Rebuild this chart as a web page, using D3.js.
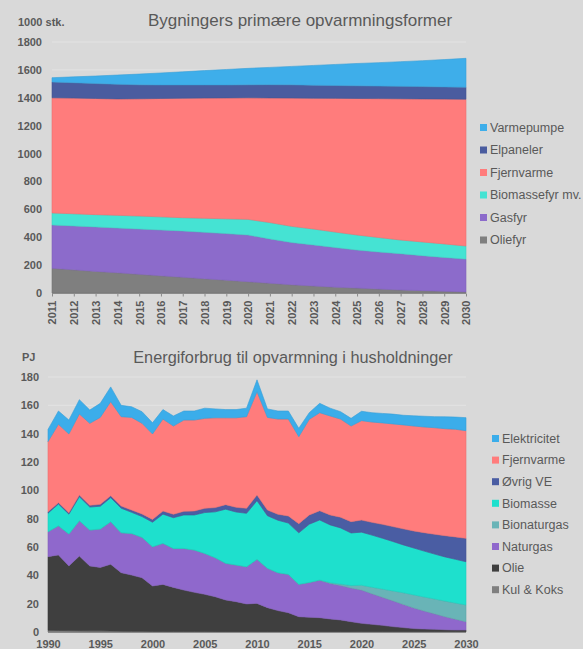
<!DOCTYPE html>
<html><head><meta charset="utf-8">
<script src="https://cdn.jsdelivr.net/npm/d3@7"></script>
<style>
body{margin:0;background:#d9d9d9}
svg text{font-family:"Liberation Sans",Arial,sans-serif}
</style>
</head><body>
<svg id="c" width="583" height="649"></svg>
<script>
// ---------- Chart 1: Bygningers primære opvarmningsformer (1000 stk.) ----------
const years1 = [2011,2012,2013,2014,2015,2016,2017,2018,2019,2020,2021,2022,2023,2024,2025,2026,2027,2028,2029,2030];
const oliefyr     = [177,166,155,145,134,123,113,102,92,81,70,59,50,42,35,28,22,17,12,8];
const gasfyr      = [311,315,319,321,325,329,332,333,334,335,318,303,295,284,273,266,260,251,243,235];
const biomassefyr = [86,87,88,91,93,94,95,101,106,112,117,116,114,111,108,104,98,98,97,94];
const fjernvarme1 = [826,830,833,835,841,849,857,862,867,872,894,920,938,959,979,996,1013,1026,1039,1053];
const elpaneler   = [113,110,107,105,100,97,95,94,93,93,95,95,93,92,91,90,89,88,87,86];
const varmepumpe  = [31,42,54,66,77,86,94,103,111,118,124,132,142,151,160,168,177,186,196,207];
const yTicks1 = [0,200,400,600,800,1000,1200,1400,1600,1800];
const series1 = ["Oliefyr","Gasfyr","Biomassefyr mv.","Fjernvarme","Elpaneler","Varmepumpe"];
const colors1 = ["#7f7f7f","#8c6bcb","#45e3d3","#ff7c7c","#4a5c9f","#3eaeea"];

// ---------- Chart 2: Energiforbrug til opvarmning i husholdninger (PJ) ----------
const years2 = [1990,1991,1992,1993,1994,1995,1996,1997,1998,1999,2000,2001,2002,2003,2004,2005,2006,2007,2008,2009,2010,2011,2012,2013,2014,2015,2016,2017,2018,2019,2020,2021,2022,2023,2024,2025,2026,2027,2028,2029,2030];
const kulKoks = [1.2,1.1,1.0,0.9,0.8,0.8,0.7,0.6,0.5,0.5,0.4,0.4,0.3,0.3,0.3,0.3,0.2,0.2,0.2,0.2,0.2,0.2,0.2,0.2,0.2,0.2,0.2,0.2,0.2,0.2,0.1,0.1,0.1,0.1,0.1,0.1,0.1,0.1,0.1,0.1,0.1];
const olie = [52.0,53.3,45.6,52.7,45.8,44.8,47.1,41.3,39.7,37.8,32.1,33.2,31.2,29.3,27.7,26.3,24.7,22.4,21.2,19.6,20.0,17.0,14.9,13.4,10.6,10.2,9.9,9.0,8.3,7.1,6.0,5.3,4.6,3.7,3.0,2.3,2.0,1.8,1.5,1.3,1.3];
const naturgas = [17.6,20.6,22.6,25.0,25.4,27.1,30.1,28.2,29.4,28.5,27.7,29.0,27.5,29.4,29.9,28.9,27.6,25.9,25.9,26.3,31.1,27.8,26.8,27.1,22.9,24.6,26.4,25.1,24.3,23.7,23.5,21.6,19.8,18.2,16.4,14.6,12.7,10.9,9.2,7.6,5.9];
const bionaturgas = [0,0,0,0,0,0,0,0,0,0,0,0,0,0,0,0,0,0,0,0,0,0,0,0,0,0,0.2,0.5,1.0,1.8,3.4,4.6,5.8,7.0,8.2,9.2,9.9,10.5,11.0,11.4,11.8];
const biomasse = [13.1,15.3,14.0,16.9,16.2,16.1,16.9,17.3,14.9,14.7,17.3,20.6,21.7,23.6,24.7,28.8,32.3,38.2,37.4,37.7,41.4,37.1,37.0,36.2,36.3,41.1,42.4,40.8,39.7,37.1,37.5,36.8,35.9,34.9,33.8,33.1,32.4,31.7,31.2,30.9,30.5];
const ovrigVE = [1,1,1,1.2,1.2,1.3,1.4,1.5,1.6,1.8,2,2.2,2.4,2.6,2.8,3,3,3.2,3.3,3.5,4,4,4.2,5,6.5,6.5,6.5,7,7.5,8,8.5,9,9.8,10.5,11.3,12,13,14,15,15.8,16.5];
const fjernvarme2 = [49.5,55.3,55.6,57.2,57.9,61.4,66.4,63.1,65.4,64.0,60.3,64.9,62.3,64.4,64.2,63.5,63.4,61.3,63.2,64.7,72.9,65.4,67.2,68.4,61.4,67.5,69.2,69.9,69.3,67.5,70.2,70.8,71.6,72.5,73.4,74.1,74.6,75.2,75.5,76.0,76.0];
const elektricitet = [8.6,9.4,9.8,10.1,9.4,9.9,10.4,8.0,7.5,8.2,7.9,6.7,7.1,6.4,6.4,7.2,6.3,5.8,5.8,6.0,8.4,6.0,5.7,5.7,5.9,4.7,6.6,5.5,5.2,5.4,6.6,6.6,6.7,6.9,6.8,7.2,7.6,7.8,8.4,8.6,9.2];
const yTicks2 = [0,20,40,60,80,100,120,140,160,180];
const xTicks2 = [1990,1995,2000,2005,2010,2015,2020,2025,2030];
const series2 = ["Kul & Koks","Olie","Naturgas","Bionaturgas","Biomasse","Øvrig VE","Fjernvarme","Elektricitet"];
const colors2 = ["#7f7f7f","#3f3f3f","#8f68cc","#69b4b7","#1ee0cd","#4a5da3","#ff7c7c","#3badea"];

const svg = d3.select("#c");
const textCol = "#595959";

function drawChart(cfg){
  const g = svg.append("g");
  const x = d3.scaleLinear().domain(d3.extent(cfg.years)).range([cfg.x0, cfg.x1]);
  const y = d3.scaleLinear().domain([0, cfg.ymax]).range([cfg.y0, cfg.y1]);
  // grid
  g.selectAll(".grid").data(cfg.yTicks).join("line")
    .attr("x1", cfg.x0).attr("x2", cfg.x1)
    .attr("y1", d=>y(d)).attr("y2", d=>y(d))
    .attr("stroke", "#e3e3e3").attr("stroke-width", 1);
  // stack
  const rows = cfg.years.map((yr,i)=>{
    const r = {year: yr};
    cfg.keys.forEach((k,j)=>{ r[k] = cfg.values[j][i]; });
    return r;
  });
  const stacked = d3.stack().keys(cfg.keys)(rows);
  const area = d3.area().x(d=>x(d.data.year)).y0(d=>y(d[0])).y1(d=>y(d[1]));
  g.selectAll(".ar").data(stacked).join("path")
    .attr("d", area)
    .attr("fill", (d,i)=>cfg.colors[i])
    .attr("stroke", (d,i)=>d3.color(cfg.colors[i]).darker(0.25))
    .attr("stroke-width", 0.6);
  // x axis line
  g.append("line").attr("x1", cfg.x0).attr("x2", cfg.x1)
    .attr("y1", cfg.y0+0.5).attr("y2", cfg.y0+0.5)
    .attr("stroke", "#8a8a8a").attr("stroke-width", 1);
  // y labels
  const yAxis = d3.axisLeft(y).tickValues(cfg.yTicks).tickFormat(d3.format("d")).tickSize(0).tickPadding(0);
  const ya = g.append("g").attr("transform", `translate(${cfg.yLabelX},0)`).call(yAxis);
  ya.select(".domain").remove();
  ya.selectAll("text").attr("fill", textCol).attr("font-size", 11).attr("font-weight", "bold")
    .style("font-family", '"Liberation Sans",Arial,sans-serif');
  // x labels
  const xAxis = d3.axisBottom(x).tickValues(cfg.xTicks).tickFormat(d3.format("d")).tickSize(cfg.tickSize).tickPadding(cfg.xPad);
  const xa = g.append("g").attr("transform", `translate(0,${cfg.y0+0.5})`).call(xAxis);
  xa.select(".domain").remove();
  xa.selectAll("line").attr("stroke", "#8a8a8a");
  xa.selectAll("text").attr("fill", textCol).attr("font-size", 11).attr("font-weight", "bold")
    .style("font-family", '"Liberation Sans",Arial,sans-serif');
  if (cfg.rotate){
    xa.selectAll("text").attr("transform", "rotate(-90)").attr("text-anchor", "end")
      .attr("x", -cfg.xPad).attr("y", 0).attr("dy", "0.35em");
  }
  // unit label
  g.append("text").attr("x", cfg.unitX).attr("y", cfg.unitY).text(cfg.unit)
    .attr("fill", textCol).attr("font-size", 11).attr("font-weight", "bold");
  // title
  g.append("text").attr("x", cfg.titleX).attr("y", cfg.titleY).attr("text-anchor", "middle")
    .text(cfg.title).attr("fill", textCol).attr("font-size", cfg.titleSize);
  // legend (top = last key)
  const legItems = cfg.keys.map((k,i)=>({k, c: cfg.colors[i]})).reverse();
  const lg = g.append("g");
  legItems.forEach((d,i)=>{
    const cy = cfg.legY + i*cfg.legStep;
    lg.append("rect").attr("x", cfg.legX).attr("y", cy-3.5).attr("width", 7).attr("height", 7).attr("fill", d.c);
    lg.append("text").attr("x", cfg.legX+10).attr("y", cy).attr("dy", "0.35em")
      .text(d.k).attr("fill", textCol).attr("font-size", 12.5);
  });
}

drawChart({
  years: years1, keys: series1, colors: colors1,
  values: [oliefyr, gasfyr, biomassefyr, fjernvarme1, elpaneler, varmepumpe],
  x0: 52, x1: 466, y0: 293, y1: 42, ymax: 1800, yTicks: yTicks1,
  xTicks: years1, rotate: true, tickSize: 3, xPad: 7, yLabelX: 42,
  unit: "1000 stk.", unitX: 18, unitY: 26,
  title: "Bygningers primære opvarmningsformer", titleX: 300, titleY: 26, titleSize: 17,
  legX: 480, legY: 127.5, legStep: 22.5
});

drawChart({
  years: years2, keys: series2, colors: colors2,
  values: [kulKoks, olie, naturgas, bionaturgas, biomasse, ovrigVE, fjernvarme2, elektricitet],
  x0: 48, x1: 466, y0: 632, y1: 377, ymax: 180, yTicks: yTicks2,
  xTicks: xTicks2, rotate: false, tickSize: 0, xPad: 8, yLabelX: 39,
  unit: "PJ", unitX: 22, unitY: 361,
  title: "Energiforbrug til opvarmning i husholdninger", titleX: 293, titleY: 363, titleSize: 16.3,
  legX: 492, legY: 438.5, legStep: 21.6
});
</script>
</body></html>
